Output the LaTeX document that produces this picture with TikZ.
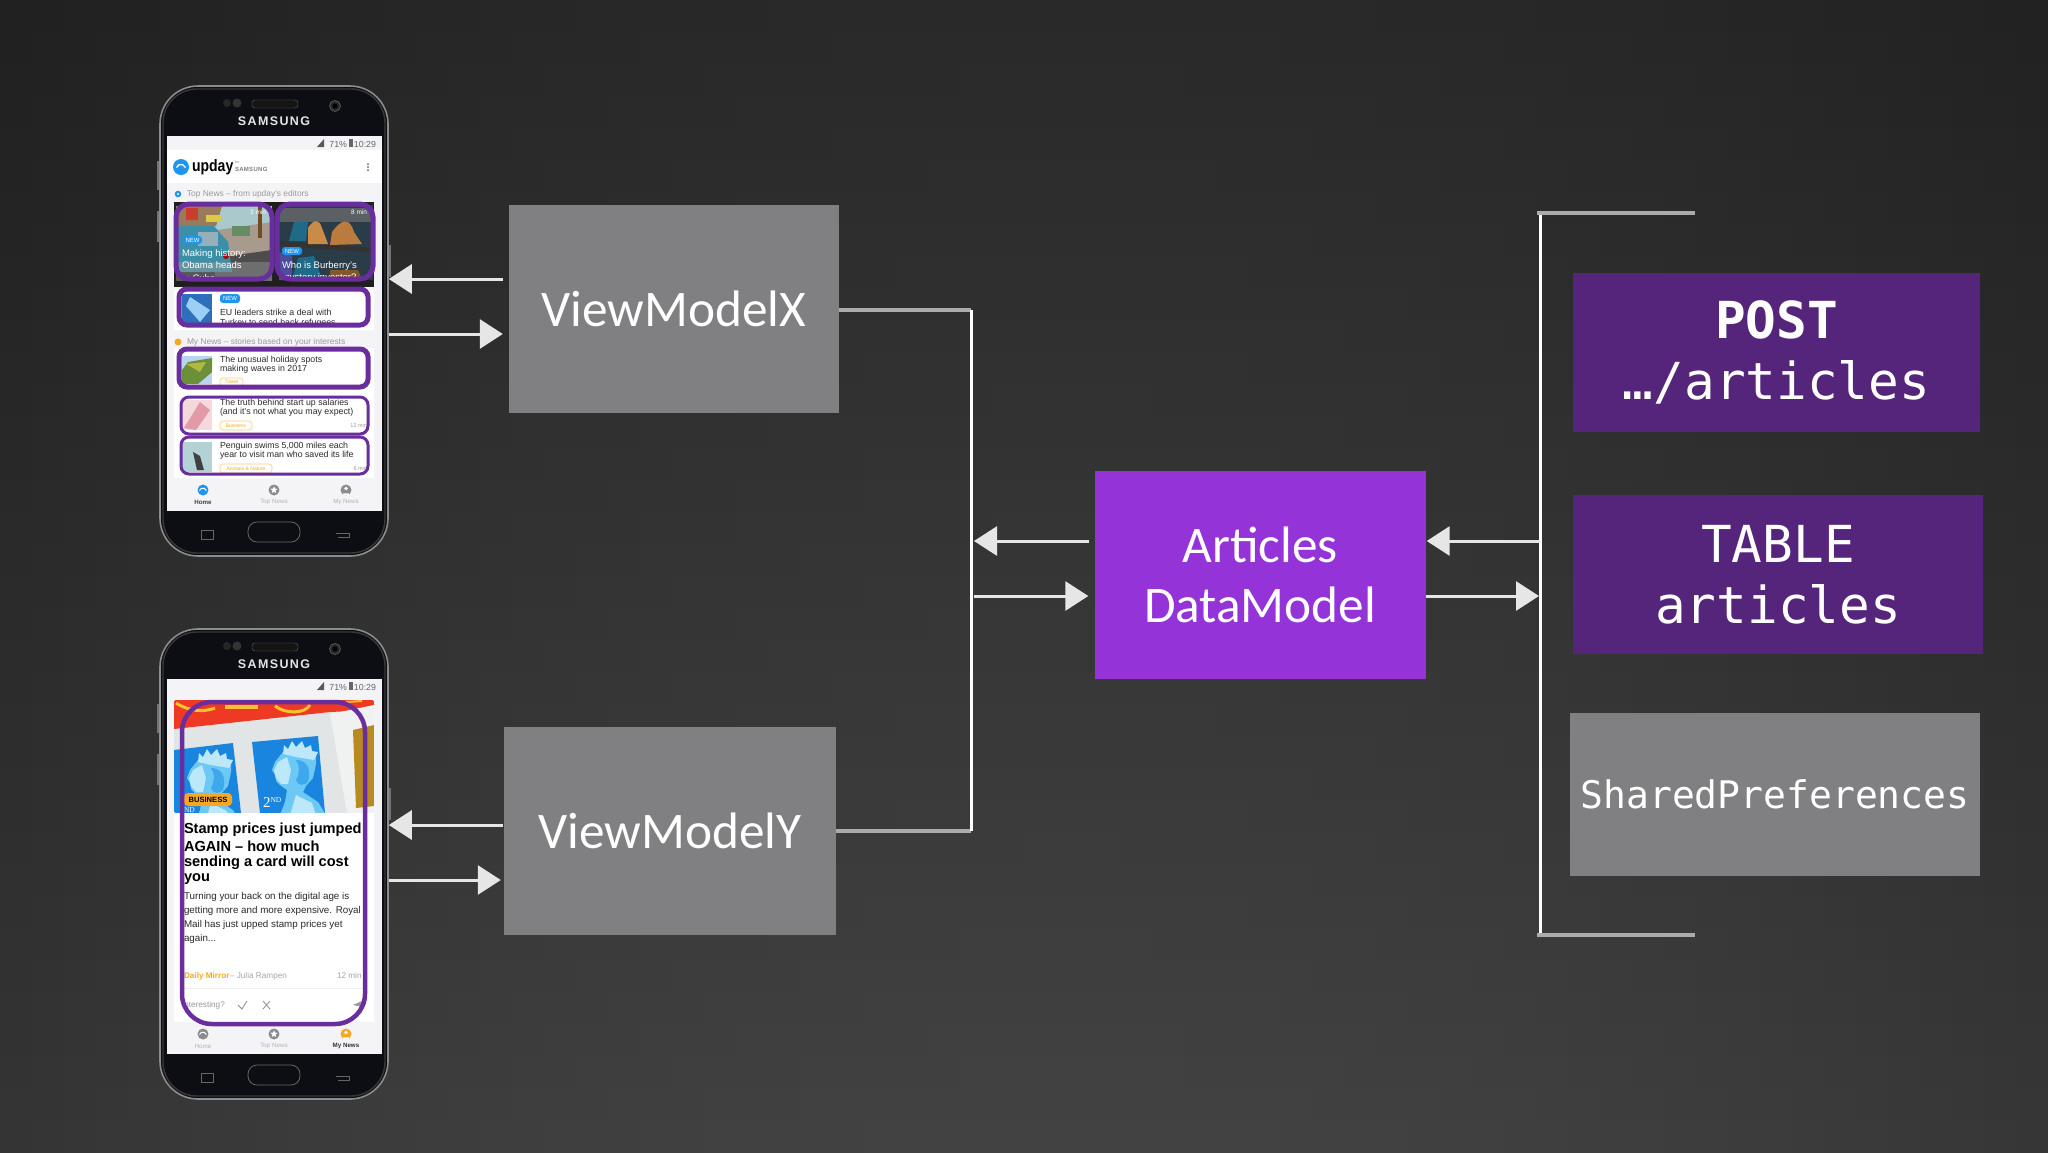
\documentclass[tikz,border=0pt]{standalone}
\usepackage{fontspec}
\usetikzlibrary{arrows.meta,calc,shapes.geometric}
\setmainfont{Liberation Sans}
\newfontfamily\boxfont{Carlito}
\newfontfamily\monofont{DejaVu Sans Mono}
\definecolor{gbox}{HTML}{808082}
\definecolor{vbox}{HTML}{9333D8}
\definecolor{dbox}{HTML}{55247B}
\definecolor{trim}{HTML}{6A2D9E}
\definecolor{conn}{HTML}{E6E6E6}
\definecolor{stub}{HTML}{ABABAB}
\definecolor{uiblue}{HTML}{1E96F0}
\definecolor{uiorange}{HTML}{F7A823}
\definecolor{uigrey}{HTML}{9A9A9C}
\definecolor{uitext}{HTML}{2A2A2A}
\definecolor{scr}{HTML}{F4F4F6}
\definecolor{spaper}{HTML}{E2E5E5}
\definecolor{sred}{HTML}{EE3A24}
\definecolor{syel}{HTML}{F7C230}
\definecolor{ssheet}{HTML}{F0F1F1}
\definecolor{sgold}{HTML}{B98A1F}
\definecolor{sblue}{HTML}{1A85DE}
\definecolor{squeen}{HTML}{6CC8F5}
\definecolor{shair}{HTML}{3FA8EC}
\definecolor{scrown}{HTML}{BCE8FA}
\definecolor{bezel}{HTML}{0C0E13}
\definecolor{bagtan}{HTML}{C98B48}
\definecolor{bagtan2}{HTML}{B97C3E}
\definecolor{bagteal}{HTML}{1F6A86}
\definecolor{shelf}{HTML}{2A3C48}
\definecolor{carteal}{HTML}{3B8FA6}
\definecolor{sky}{HTML}{A9C9CC}
\definecolor{wall}{HTML}{9A7A5C}
\definecolor{road}{HTML}{A89A8C}
\definecolor{thA}{HTML}{2D6FB8}
\definecolor{thB}{HTML}{B8D4F0}
\definecolor{thC}{HTML}{6C8F3A}
\definecolor{thD}{HTML}{B3B83E}
\definecolor{thE}{HTML}{F4D8DC}
\definecolor{thF}{HTML}{E39AA8}
\definecolor{thG}{HTML}{B2D2D6}
\tikzset{
  x=1pt,y=-1pt,
  flowbox/.style={draw=none,inner sep=0pt,align=center,text=white},
  graybox/.style={flowbox,fill=gbox,font=\boxfont\fontsize{51.3}{60}\selectfont},
  violetbox/.style={flowbox,fill=vbox,font=\boxfont\fontsize{51.3}{60}\selectfont},
  darkbox/.style={flowbox,fill=dbox,font=\monofont\fontsize{51}{61}\selectfont},
  arr/.style={draw=conn,line width=3pt,-{Triangle[length=23pt,width=29pt,fill=conn]}},
  busline/.style={draw=white,line width=3pt},
  stubline/.style={draw=stub,line width=4pt},
  trimA/.style={draw=trim,line width=5pt,rounded corners=13pt},
  trimB/.style={draw=trim,line width=3pt,rounded corners=8pt},
  phonebody/.style={rectangle,rounded corners=38pt,minimum width=228pt,minimum height=470pt,inner sep=0pt,draw=black!45,line width=1.6pt,fill=bezel},
  lab/.style={inner sep=0pt,outer sep=0pt,anchor=west},
  pill/.style={rounded corners=3pt},
  starmark/.style={star,star points=5,star point ratio=2.2,fill=white,inner sep=0pt,minimum size=7.5pt},
}
\newcounter{lblno}
\newcommand\lbl[4][]{\stepcounter{lblno}\node[lab,#1] (lbl\arabic{lblno}) at (#2,#3) {#4};}
\newcommand\fsz[1]{\fontsize{#1}{#1}\selectfont}
% phone hardware, y offset #2
\newcommand\phoneshell[2]{%
  \fill[black!55] (156.5,161+#2) rectangle (160,190+#2);
  \fill[black!55] (156.5,211+#2) rectangle (160,242+#2);
  \fill[black!55] (388,245+#2) rectangle (391,277+#2);
  \node[phonebody] (#1) at (274,321+#2) {};
  \draw[black!78,line width=1.4pt,rounded corners=34pt] (163,89+#2) rectangle (385,553+#2);
  \draw[black!60,fill=black!92,rounded corners=3pt] (252,100+#2) rectangle (298,108+#2);
  \fill[black!85] (227,103+#2) circle (4);
  \fill[black!80] (237,103+#2) circle (4.5);
  \draw[black!65,fill=black!85,line width=.8pt] (335,106+#2) circle (5.5);
  \fill[black] (335,106+#2) circle (2.5);
  \lbl[anchor=center,text=black!10]{274}{121+#2}{\bfseries\addfontfeature{LetterSpace=11}\fsz{12.5}SAMSUNG}
  \fill[scr] (167,136+#2) rectangle (382,511+#2);
  \fill[black!65] (324,139+#2) -- (324,147+#2) -- (317,147+#2) -- cycle;
  \lbl[anchor=east,text=black!60]{376}{143.5+#2}{\fsz{8.8}71\%\,\rule{4pt}{8pt}\,10:29}
  \draw[black!60,line width=.8pt,rounded corners=9pt] (248,522+#2) rectangle (300,542+#2);
  \draw[black!60,line width=.8pt] (201,530+#2) rectangle (213,539+#2);
  \draw[black!60,line width=.8pt] (336,533+#2) -- (349,533+#2) -- (349,537+#2) -- (338,537+#2);
}
% nav icons
\newcommand\navhome[3]{\fill[#3] (#1,#2) circle (5.5);\draw[white,line width=1pt] (#1-3.5,#2+.5) arc[start angle=200,end angle=340,radius=3.7];}
\newcommand\navstar[2]{\fill[black!45] (#1,#2) circle (5.5);\stepcounter{lblno}\node[starmark] (lbl\arabic{lblno}) at (#1,#2) {};}
\newcommand\navperson[3]{\fill[#3] (#1,#2) circle (5.5);\fill[white] (#1,#2-1.5) circle (1.9);\fill[white] (#1-3.2,#2+3.3) arc[start angle=180,end angle=360,x radius=3.2,y radius=-2.4] -- cycle;}
% queen's head: #1 shift x, #2 shift y
\newcommand\queen[2]{%
  \begin{scope}[shift={(#1,#2)}]
  \fill[squeen] (283,752) -- (275,762) -- (272,770) -- (275,775) -- (276,781) -- (280,785) -- (287,790) -- (285,802) -- (280,815) -- (326,815) -- (318,802) -- (303,792) -- (306,786) -- (313,778) -- (316,764) -- (316,752) -- cycle;
  \fill[scrown] (278,762) -- (287,757) -- (291,770) -- (288,784) -- (281,784) -- (276,778) -- (274,770) -- cycle;
  \fill[scrown] (290,815) -- (296,795) -- (312,803) -- (316,815) -- cycle;
  \fill[shair] (296,760) .. controls (306,760) and (312,768) .. (308,782) .. controls (304,786) and (298,786) .. (296,780) .. controls (300,772) and (300,766) .. (296,760) -- cycle;
  \fill[scrown] (283,754) -- (284,745) -- (288,749) -- (292,741) -- (296,747) -- (302,741) -- (305,748) -- (311,745) -- (312,751) -- (318,752) -- (314,760) -- (296,757) -- cycle;
  \end{scope}}
\begin{document}
\begin{tikzpicture}
\useasboundingbox (0,0) rectangle (2048,1152);
% slide background: darker at the top, falling off to both sides
\foreach \i in {0,...,63}{\foreach \j in {0,...,35}{%
  \pgfmathsetmacro\tg{(0.16+0.10*(\j+.5)/36)*(1-0.2*((\i+.5)/32-1.04)^2)}%
  \definecolor{tile}{gray}{\tg}%
  \fill[tile] (\i*32,\j*32) rectangle (\i*32+33,\j*32+33);
}}

%========= PHONE 1
\phoneshell{phone1}{0}
\fill[white] (167,150) rectangle (382,183);
\fill[uiblue] (181,167) circle (8);
\draw[white,line width=1.3pt] (176.5,167.5) arc[start angle=200,end angle=340,radius=4.8];
\lbl{192}{167}{\bfseries\fsz{16.5}\addfontfeature{FakeStretch=.85}upday}
\lbl[text=black!50]{235}{162}{\fsz{3.5}for}
\lbl[text=black!50]{235}{169}{\bfseries\fsz{6}\addfontfeature{LetterSpace=5}SAMSUNG}
\foreach \d in {164,167,170} \fill[black!60] (368,\d) circle (1);
\draw[uiblue,line width=2pt] (178,194) circle (2.2);
\lbl[text=uigrey]{187}{194}{\fsz{8.4}Top News -- from upday's editors}
% news images
\fill[black!88] (174,202) rectangle (374,287);
\begin{scope}
  \clip (176,205) rectangle (272,280);
  \fill[sky] (176,206) rectangle (272,232);
  \fill[wall] (176,206) -- (222,206) -- (216,226) -- (176,226) -- cycle;
  \fill[red!50!wall] (186,208) rectangle (198,220);
  \fill[yellow!60!wall] (206,215) rectangle (222,222);
  \fill[road] (218,230) -- (272,222) -- (272,262) -- (222,262) -- cycle;
  \fill[green!25!black!60] (232,226) rectangle (250,236);
  \fill[brown!60!black] (258,206) rectangle (262,238);
  \fill[gray!60!black] (215,258) -- (272,250) -- (272,282) -- (215,282) -- cycle;
  \fill[carteal] (176,226) -- (214,226) -- (228,242) -- (232,272) -- (176,272) -- cycle;
  \fill[cyan!25!gray!80] (198,232) rectangle (218,246);
  \fill[black!40,opacity=.45] (176,262) rectangle (272,282);
  \fill[red!70!black] (226,256) circle (3);
\end{scope}
\begin{scope}
  \clip (279,205) rectangle (373,280);
  \fill[shelf] (279,205) rectangle (373,280);
  \fill[cyan!25!gray!50!black] (279,208) rectangle (373,222);
  \fill[black!80] (279,241) -- (373,248) -- (373,253) -- (279,246) -- cycle;
  \fill[bagteal] (294,222) -- (308,222) -- (306,241) -- (289,241) -- cycle;
  \fill[bagtan] (308,228) .. controls (314,218) and (320,220) .. (322,228) -- (328,244) -- (308,244) -- cycle;
  \fill[bagtan2] (332,232) .. controls (342,218) and (350,218) .. (354,232) -- (362,244) -- (330,245) -- cycle;
  \fill[bagteal] (298,258) -- (314,256) -- (322,280) -- (292,280) -- cycle;
  \fill[blue!45!black!70] (279,252) -- (292,256) -- (292,280) -- (279,280) -- cycle;
  \fill[bagtan2!70!black] (330,270) -- (358,270) -- (362,280) -- (330,280) -- cycle;
\end{scope}
\lbl[anchor=east,text=white]{266}{212}{\fsz{6.5}3 min}
\lbl[anchor=east,text=white]{367}{212}{\fsz{6.5}8 min}
\fill[uiblue,pill] (183,236) rectangle (202,244);
\lbl[anchor=center,text=white]{192.5}{240}{\fsz{6}NEW}
\fill[uiblue,pill] (282,247) rectangle (302,255);
\lbl[anchor=center,text=white]{292}{251}{\fsz{6}NEW}
\begin{scope}
  \clip (175,205) rectangle (374,278);
  \lbl[text=white]{182}{254.5}{\fsz{9.5}Making history:}
  \lbl[text=white]{182}{265.5}{\fsz{9.5}Obama heads}
  \lbl[text=white]{182}{278}{\fsz{9.5}to Cuba}
  \lbl[text=white]{282}{266}{\fsz{9.5}Who is Burberry's}
  \lbl[text=white]{282}{278}{\fsz{9.5}mystery investor?}
\end{scope}
\draw[trimA] (176,204) rectangle (272,279);
\draw[trimA] (277,204) rectangle (373,279);
% cards
\fill[white] (174,290) rectangle (374,330);
\fill[thA] (182,294) rectangle (212,323);
\fill[uiblue!45!white] (190,297) -- (210,310) -- (200,322) -- (186,306) -- cycle;
\fill[uiblue,pill] (220,294) rectangle (240,303);
\lbl[anchor=center,text=white]{230}{298.5}{\fsz{6}NEW}
\lbl[text=uitext]{220}{312}{\fsz{8.8}EU leaders strike a deal with}
\begin{scope}
  \clip (218,315) rectangle (368,322.5);
  \lbl[text=uitext]{220}{323}{\fsz{8.8}Turkey to send back refugees}
\end{scope}
\draw[trimA,rounded corners=8pt] (179,289) rectangle (368,325);
\fill[uiorange] (178,342) circle (3.5);
\lbl[text=uigrey]{187}{342}{\fsz{8.4}My News -- stories based on your interests}
\fill[white] (174,348) rectangle (374,478);
\fill[thB] (182,356) rectangle (212,384);
\fill[thC] (188,362) -- (212,358) -- (212,372) -- (198,384) -- (182,384) -- (182,370) -- cycle;
\fill[thD] (186,364) -- (206,362) -- (200,372) -- cycle;
\lbl[text=uitext]{220}{360}{\fsz{8.8}The unusual holiday spots}
\lbl[text=uitext]{220}{369}{\fsz{8.8}making waves in 2017}
\draw[uiorange!60,pill,line width=.6pt] (220,378) rectangle (243,386);
\lbl[anchor=center,text=uiorange]{231.5}{382}{\fsz{5}Travel}
\draw[trimA,rounded corners=8pt] (179,349) rectangle (368,387);
\fill[thE] (182,400) rectangle (212,430);
\fill[thF] (184,428) -- (200,402) -- (210,410) -- (196,430) -- cycle;
\lbl[text=uitext]{220}{403}{\fsz{8.8}The truth behind start up salaries}
\lbl[text=uitext]{220}{412}{\fsz{8.8}(and it's not what you may expect)}
\draw[uiorange!60,pill,line width=.6pt] (220,421) rectangle (252,430);
\lbl[anchor=center,text=uiorange]{236}{425.5}{\fsz{5}Business}
\lbl[anchor=east,text=black!40]{367}{425.5}{\fsz{5.5}12 min}
\draw[trimB] (181,397) rectangle (368,434);
\fill[thG] (182,442) rectangle (212,472);
\fill[black!75] (193,452) -- (200,456) -- (204,470) -- (197,470) -- cycle;
\lbl[text=uitext]{220}{446}{\fsz{8.8}Penguin swims 5,000 miles each}
\lbl[text=uitext]{220}{455}{\fsz{8.8}year to visit man who saved its life}
\draw[uiorange!60,pill,line width=.6pt] (220,464) rectangle (272,473);
\lbl[anchor=center,text=uiorange]{246}{468.5}{\fsz{5}Animals \& Nature}
\lbl[anchor=east,text=black!40]{367}{468.5}{\fsz{5.5}6 min}
\draw[trimB] (181,437) rectangle (368,474);
% nav
\navhome{203}{490}{uiblue}
\navstar{274}{490}
\navperson{346}{490}{black!45}
\lbl[anchor=center,text=black!75]{203}{502}{\bfseries\fsz{6.2}Home}
\lbl[anchor=center,text=black!30]{274}{502}{\fsz{6.2}Top News}
\lbl[anchor=center,text=black!30]{346}{502}{\fsz{6.2}My News}

%========= PHONE 2
\phoneshell{phone2}{543}
% stamps photo
\begin{scope}
  \clip[rounded corners=2pt] (174,700) rectangle (374,813);
  \fill[spaper] (174,700) rectangle (374,813);
  \fill[sred] (374,700) -- (374,710) -- (330,712) -- (174,729) -- (174,700) -- cycle;
  \draw[syel,line width=3pt] (176,703) .. controls (190,712) and (205,712) .. (215,708);
  \draw[syel,line width=4pt] (225,707) -- (258,707);
  \draw[syel,line width=3pt] (275,706) .. controls (285,714) and (305,714) .. (310,705);
  \draw[syel,line width=2pt] (346,702) -- (362,701);
  \fill[ssheet] (330,714) -- (374,705) -- (374,813) -- (347,813) -- cycle;
  \fill[sgold] (353,730) -- (374,725) -- (374,806) -- (356,808) -- cycle;
  \begin{scope}
    \clip (174,750) -- (233,743) -- (241,813) -- (174,813) -- cycle;
    \fill[sblue] (174,740) rectangle (245,815);
    \queen{-85}{8}
  \end{scope}
  \begin{scope}
    \clip (252,742) -- (318,736) -- (325,813) -- (260,813) -- cycle;
    \fill[sblue] (250,730) rectangle (330,815);
    \queen{0}{0}
  \end{scope}
  \lbl[text=white]{263}{803}{\fontspec{Liberation Serif}\fsz{15}2\raisebox{5pt}{\fsz{7.5}ND}}
  \lbl[text=white]{184}{810}{\fontspec{Liberation Serif}\fsz{7.5}ND}
\end{scope}
\fill[uiorange,rounded corners=4pt] (184,793) rectangle (232,806);
\lbl[anchor=center]{208}{799.5}{\bfseries\fsz{7.6}BUSINESS}
\fill[white] (174,813) rectangle (374,1022);
\begin{scope}
  \clip (180,813) rectangle (364,1022);
  \lbl{184}{830}{\bfseries\fsz{14.6}Stamp prices just jumped}
  \lbl{184}{846}{\bfseries\fsz{14.6}AGAIN -- how much}
  \lbl{184}{862.5}{\bfseries\fsz{14.6}sending a card will cost}
  \lbl{184}{879}{\bfseries\fsz{14.6}you}
  \lbl[text=uitext]{184}{897}{\fsz{9.8}Turning your back on the digital age is}
  \lbl[text=uitext]{184}{911}{\fsz{9.8}getting more and more expensive. Royal}
  \lbl[text=uitext]{184}{925}{\fsz{9.8}Mail has just upped stamp prices yet}
  \lbl[text=uitext]{184}{939}{\fsz{9.8}again...}
  \lbl[text=uiorange]{184}{976}{\bfseries\fsz{8.2}Daily Mirror}
  \lbl[text=black!35]{230}{976}{\fsz{8.2}-- Julia Rampen}
  \lbl[text=black!35]{337}{976}{\fsz{8.2}12 min}
  \draw[black!6] (184,988) -- (364,988);
  \lbl[text=black!40]{182}{1005}{\fsz{8.2}Interesting?}
  \draw[black!45,line width=.8pt] (238,1005) -- (242,1009) -- (247,1001);
  \draw[black!45,line width=.8pt] (263,1001) -- (270,1009) (270,1001) -- (263,1009);
  \fill[black!40] (353,1005) -- (362,1001) -- (362,1007) -- cycle;
\end{scope}
\draw[draw=trim,line width=4.5pt,rounded corners=30pt] (182,702) rectangle (365,1024);
\navhome{203}{1034}{black!45}
\navstar{274}{1034}
\navperson{346}{1034}{uiorange}
\lbl[anchor=center,text=black!30]{203}{1046}{\fsz{6.2}Home}
\lbl[anchor=center,text=black!30]{274}{1046}{\fsz{6.2}Top News}
\lbl[anchor=center,text=black!80]{346}{1046}{\bfseries\fsz{6.2}My News}

%========= BOXES
\node[graybox,minimum width=330pt,minimum height=208pt] (vmx) at (674,309) {\raisebox{-1.3pt}{ViewModelX}};
\node[graybox,minimum width=332pt,minimum height=208pt] (vmy) at (670,831) {\raisebox{-1pt}{ViewModelY}};
\node[violetbox,minimum width=331pt,minimum height=208pt] (adm) at (1260,575) {\raisebox{-1.3pt}{Articles}\\\raisebox{-1.3pt}{DataModel}};
\node[darkbox,minimum width=407pt,minimum height=159pt] (post) at (1776.5,352.5) {\raisebox{-2.5pt}{\textbf{POST}}\\\raisebox{-2.5pt}{…/articles}};
\node[darkbox,minimum width=410pt,minimum height=159pt] (tbl) at (1778,574.5) {TABLE\\articles};
\node[flowbox,fill=gbox,font=\monofont\fontsize{38}{47}\selectfont,minimum width=410pt,minimum height=163pt] (shp) at (1775,794.5) {SharedPreferences};

%========= BRACKET AND BUSES
\coordinate (rbt) at (1540,213);
\coordinate (rbb) at (1540,935);
\coordinate (rtt) at (1695,213);
\coordinate (rtb) at (1695,935);
\coordinate (busx) at (971,0);
\draw[busline] (rbt) -- (rbb);
\draw[stubline] ([xshift=-3pt]rbt) -- (rtt);
\draw[stubline] ([xshift=-3pt]rbb) -- (rtb);
\draw[stubline] (vmx.east |- 0,310) -- (busx |- 0,310);
\draw[stubline] (vmy.east) -- (busx |- vmy.east);
\draw[busline] (busx |- 0,310) -- (busx |- vmy.east);

%========= ARROWS
\coordinate (a1) at ([xshift=-6pt,yshift=30pt]vmx.west);
\coordinate (a2) at ([xshift=-6pt,yshift=-25pt]vmx.west);
\draw[arr] (a1) -- (a1 -| phone1.east);
\draw[arr] (a2 -| phone1.east) -- (a2);
\coordinate (a3) at ([xshift=-1pt,yshift=6pt]vmy.west);
\coordinate (a4) at ([xshift=-3pt,yshift=-49pt]vmy.west);
\draw[arr] (a3) -- (a3 -| phone2.east);
\draw[arr] (a4 -| phone2.east) -- (a4);
\coordinate (a5) at ([xshift=-5pt,yshift=34pt]adm.west);
\coordinate (a6) at ([xshift=-6pt,yshift=-21pt]adm.west);
\draw[arr] (a5) -- ([xshift=3pt]a5 -| busx);
\draw[arr] ([xshift=3pt]a6 -| busx) -- (a6);
\coordinate (a7) at ([xshift=1pt,yshift=34pt]adm.east);
\coordinate (a8) at ([yshift=-21pt]adm.east);
\draw[arr] (a7 -| rbt) -- (a7);
\draw[arr] (a8) -- ([xshift=-1pt]a8 -| rbt);
\end{tikzpicture}
\end{document}
